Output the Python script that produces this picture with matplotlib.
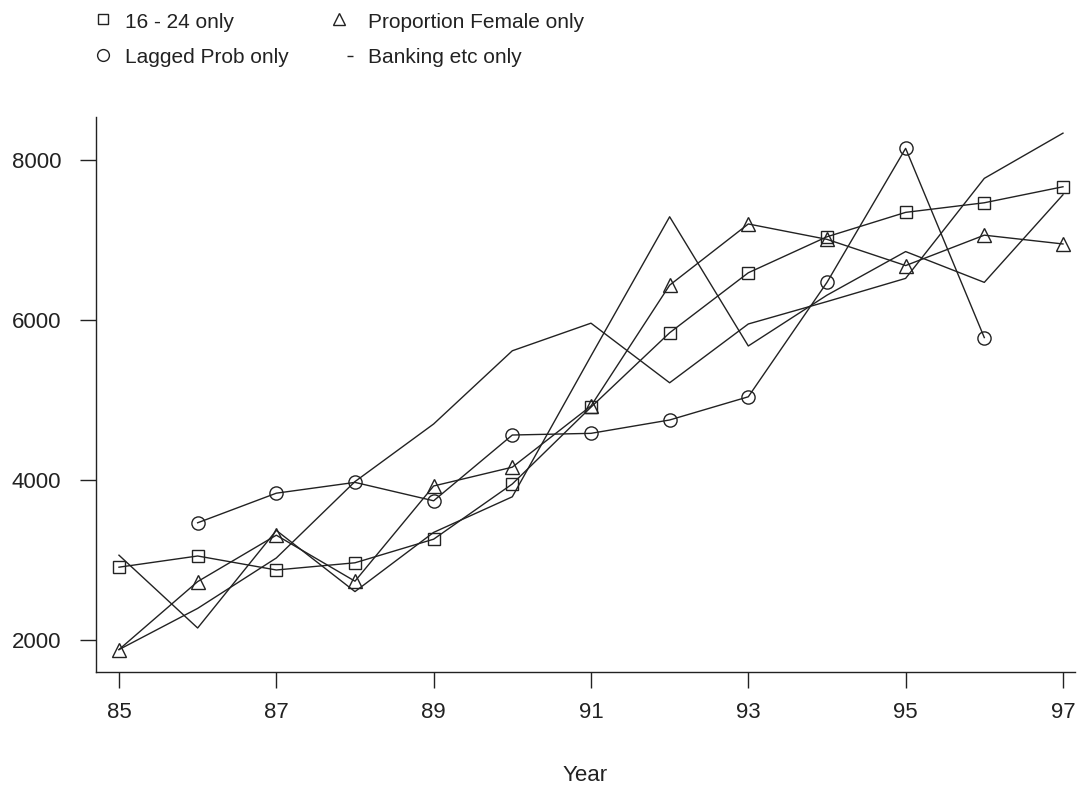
import matplotlib
matplotlib.use("Agg")
import matplotlib.pyplot as plt
from matplotlib.lines import Line2D

plt.rcParams['font.family'] = ['Liberation Sans', 'DejaVu Sans']

# data
years = [85, 86, 87, 88, 89, 90, 91, 92, 93, 94, 95, 96, 97]
years_lagged = [86, 87, 88, 89, 90, 91, 92, 93, 94, 95, 96]

age_16_24 = [2910, 3050, 2875, 2965, 3260, 3950, 4910, 5840, 6590, 7040, 7345, 7465, 7665]
prop_female = [1880, 2730, 3310, 2735, 3925, 4160, 4925, 6435, 7200, 7008, 6680, 7060, 6950]
lagged_prob = [3465, 3835, 3970, 3740, 4562, 4583, 4750, 5040, 6470, 8145, 5780]
banking = [3060, 2150, 3370, 2605, 3345, 3790, 5550, 7290, 5675, 6310, 6855, 6470, 7565]
other_line = [1880, 2395, 3025, 3980, 4700, 5615, 5960, 5215, 5950, 6230, 6520, 7770, 8335]

legend_labels = ['16 - 24 only', 'Lagged Prob only', 'Proportion Female only', 'Banking etc only']
xticks = [85, 87, 89, 91, 93, 95, 97]
yticks = [2000, 4000, 6000, 8000]

col = '#222222'
W, H = 1084, 787

fig = plt.figure(figsize=(W / 100, H / 100), dpi=100)
ax = fig.add_axes([96 / W, 1 - 672 / H, (1075 - 96) / W, (672 - 117) / H])

#plot the series
ax.plot(years, age_16_24, color=col, lw=1.0, marker='s', ms=8, mfc='none', mec=col, mew=1.0)
ax.plot(years_lagged, lagged_prob, color=col, lw=1.0, marker='o', ms=9.5, mfc='none', mec=col, mew=1.0)
ax.plot(years, prop_female, color=col, lw=1.0, marker='^', ms=9.5, mfc='none', mec=col, mew=1.0)
ax.plot(years, banking, color=col, lw=1.0)
ax.plot(years, other_line, color=col, lw=1.0)

ax.set_xlim(84.708, 97.153)
ax.set_ylim(1600, 8537)
ax.set_xticks(xticks)
ax.set_xticklabels([str(x) for x in xticks])
ax.set_yticks(yticks)
ax.set_yticklabels([str(y) for y in yticks])

for s in ['top', 'right']:
    ax.spines[s].set_visible(False)
for s in ['left', 'bottom']:
    ax.spines[s].set_color(col)
    ax.spines[s].set_linewidth(1.0)

ax.tick_params(axis='both', length=11.5, width=1.0, color=col, labelsize=16, labelcolor=col)
ax.tick_params(axis='x', pad=10)
ax.tick_params(axis='y', pad=13.5)
ax.set_xlabel('Year', fontsize=16, color=col, labelpad=30)

#legend drawn by hand at the top
marker_pos = [(103, 19), (103, 55), (339, 19), (350, 56)]
text_pos = [(125, 28), (125, 63), (368, 28), (368, 63)]
styles = [dict(marker='s', ms=7.5), dict(marker='o', ms=8.5), dict(marker='^', ms=8.5), dict(marker='_', ms=5)]
for lab, (mx, my), (tx, ty), st in zip(legend_labels, marker_pos, text_pos, styles):
    fig.add_artist(Line2D([mx / W], [1 - my / H], transform=fig.transFigure, linestyle='none',
                          mfc='none', mec=col, mew=1.0, **st))
    fig.text(tx / W, 1 - ty / H, lab, fontsize=15, color=col, va='baseline', ha='left')

fig.savefig('out.png', dpi=100)
